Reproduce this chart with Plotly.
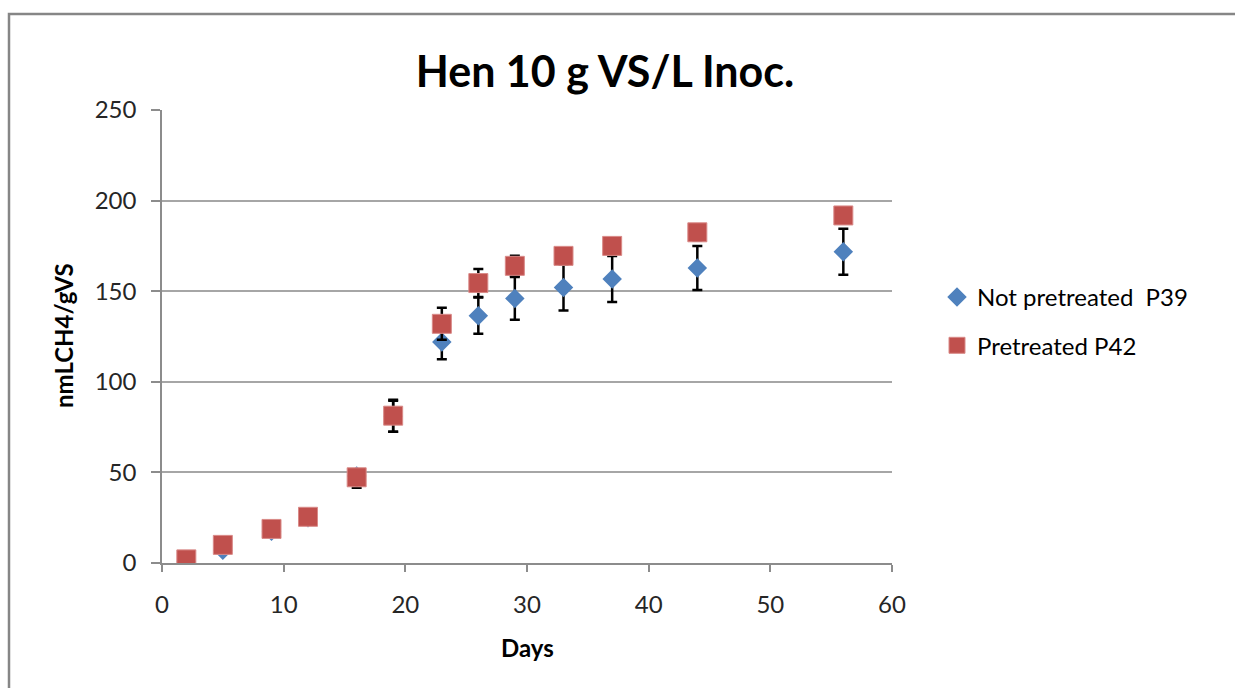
import plotly.graph_objects as go

days = [2, 5, 9, 12, 16, 19, 23, 26, 29, 33, 37, 44, 56]
not_pretreated_p39 = [1, 7, 17.5, 25, 48, 81, 122, 136.5, 146, 152, 156.7, 162.8, 171.8]
not_pretreated_err_plus = [1, 1, 1, 1, 0.5, 8.5, 9.5, 10, 11.8, 12.7, 12.7, 12.1, 12.7]
not_pretreated_err_minus = [1, 1, 1, 1, 6.5, 8.5, 9.5, 10, 11.8, 12.7, 12.7, 12.1, 12.7]
pretreated_p42 = [2, 10, 18.8, 25.5, 47.3, 81.3, 132, 154.5, 164, 169.5, 175, 182.5, 191.8]
pretreated_err = [1, 1, 1, 1, 3, 8.8, 8.8, 7.7, 5.5, 4, 4, 4.5, 4]

series_names = ["Not pretreated  P39", "Pretreated P42"]
title_text = "Hen 10 g VS/L Inoc."
x_title = "Days"
y_title = "nmLCH4/gVS"
x_ticks = [0, 10, 20, 30, 40, 50, 60]
y_ticks = [0, 50, 100, 150, 200, 250]

FONT = "Lato"
BLUE = "#4F81BD"
RED = "#C0504D"

fig = go.Figure()
fig.add_trace(go.Scatter(
    x=days, y=not_pretreated_p39, mode="markers", name=series_names[0],
    legendgroup="a",
    marker=dict(symbol="diamond", size=15, color=BLUE, line=dict(width=0)),
    error_y=dict(type="data", symmetric=False, array=not_pretreated_err_plus,
                 arrayminus=not_pretreated_err_minus, visible=True,
                 color="black", thickness=2.5, width=5),
))
fig.add_trace(go.Scatter(
    x=days, y=pretreated_p42, mode="markers", name=series_names[1],
    legendgroup="b",
    marker=dict(symbol="square", size=19, color=RED,
                line=dict(width=1, color="#D98A88")),
    error_y=dict(type="data", array=pretreated_err, visible=True,
                 color="black", thickness=2.5, width=5),
))

L, R, T, B = 162, 343, 110, 125
W, H = 1235, 688
pw, ph = W - L - R, H - T - B

def px_x(p):
    return (p - L) / pw

def px_y(p):
    return (H - B - p) / ph

fig.update_layout(
    width=W, height=H,
    margin=dict(l=L, r=R, t=T, b=B, pad=0),
    paper_bgcolor="white", plot_bgcolor="white",
    font=dict(family=FONT, color="#262626"),
    title=dict(text=title_text, xref="container", x=605 / W, xanchor="center",
               yref="container", y=1 - 72 / H, yanchor="middle",
               font=dict(family=FONT, size=43, color="black", weight="bold")),
    showlegend=True,
    legend=dict(x=px_x(937), xanchor="left", y=px_y(275), yanchor="top",
                font=dict(family=FONT, size=24, color="black"),
                tracegroupgap=14, traceorder="grouped",
                bgcolor="rgba(0,0,0,0)", borderwidth=0),
    xaxis=dict(range=[0, 60], tickvals=x_ticks, showgrid=False, zeroline=False,
               showline=True, linecolor="#8C8C8C", linewidth=1.5,
               ticks="outside", ticklen=7, tickcolor="#8C8C8C", tickwidth=1.5,
               ticklabelstandoff=12,
               tickfont=dict(family=FONT, size=24, color="#262626"),
               fixedrange=True),
    yaxis=dict(range=[0, 250], tickvals=y_ticks, showgrid=True,
               gridcolor="#A6A6A6", gridwidth=1.5, zeroline=False,
               showline=True, linecolor="#8C8C8C", linewidth=1.5,
               ticks="outside", ticklen=9, tickcolor="#8C8C8C", tickwidth=1.5,
               ticklabelstandoff=10,
               tickfont=dict(family=FONT, size=24, color="#262626"),
               fixedrange=True),
    annotations=[
        dict(text=x_title, xref="paper", yref="paper", x=px_x(527), y=px_y(647),
             xanchor="center", yanchor="middle", showarrow=False,
             font=dict(family=FONT, size=24, color="black", weight="bold")),
        dict(text=y_title, xref="paper", yref="paper", x=px_x(63), y=px_y(336),
             xanchor="center", yanchor="middle", showarrow=False, textangle=-90,
             font=dict(family=FONT, size=24, color="black", weight="bold")),
    ],
    shapes=[
        dict(type="rect", xref="paper", yref="paper",
             x0=px_x(9), x1=px_x(1260), y0=px_y(720), y1=px_y(14),
             line=dict(color="#868686", width=2.5), layer="below"),
    ],
)

fig.write_html("out.html")
